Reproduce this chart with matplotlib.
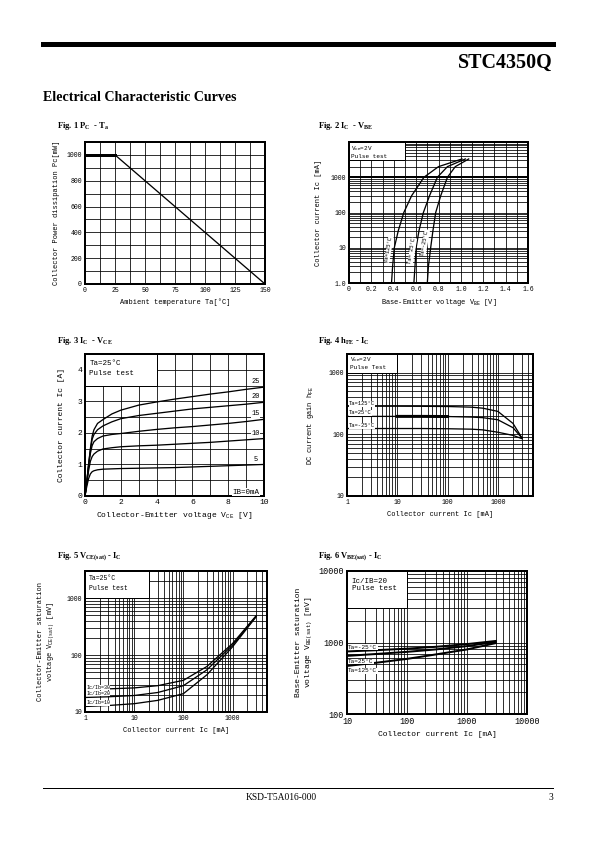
import matplotlib
matplotlib.use("Agg")
import matplotlib.pyplot as plt
from matplotlib.ticker import MultipleLocator, LogLocator, NullFormatter, NullLocator
from matplotlib.patches import Rectangle

plt.rcParams['font.family'] = ['Liberation Mono', 'DejaVu Sans Mono']

W, H = 595, 842

# ---- Fig. 1  Pc - Ta ----
ta = [0, 25, 150]
pc = [1000, 1000, 0]

# ---- Fig. 2  Ic - Vbe ----
ic2 = [1, 3, 10, 30, 100, 300, 1000, 2000, 3300]
vbe_125 = [0.38, 0.39, 0.405, 0.44, 0.49, 0.56, 0.67, 0.80, 1.01]
vbe_25 = [0.58, 0.59, 0.60, 0.625, 0.665, 0.72, 0.79, 0.88, 1.04]
vbe_m25 = [0.70, 0.71, 0.73, 0.75, 0.775, 0.82, 0.88, 0.95, 1.07]

# ---- Fig. 3  Ic - Vce ----
vce = [0, 0.1, 0.2, 0.3, 0.4, 0.5, 0.7, 1, 1.5, 2, 3, 4, 5, 6, 7, 8, 9, 10]
ic_ib25 = [0, 0.45, 1.0, 1.5, 1.9, 2.1, 2.3, 2.42, 2.6, 2.72, 2.88, 2.98, 3.07, 3.15, 3.23, 3.3, 3.38, 3.45]
ic_ib20 = [0, 0.45, 1.0, 1.45, 1.8, 1.95, 2.1, 2.22, 2.35, 2.45, 2.55, 2.62, 2.69, 2.76, 2.81, 2.86, 2.91, 2.97]
ic_ib15 = [0, 0.45, 0.95, 1.35, 1.6, 1.72, 1.82, 1.9, 1.95, 1.98, 2.05, 2.11, 2.16, 2.2, 2.25, 2.3, 2.36, 2.43]
ic_ib10 = [0, 0.4, 0.8, 1.1, 1.25, 1.33, 1.42, 1.49, 1.53, 1.56, 1.59, 1.61, 1.64, 1.67, 1.7, 1.74, 1.78, 1.82]
ic_ib5 = [0, 0.3, 0.55, 0.7, 0.77, 0.8, 0.83, 0.85, 0.86, 0.87, 0.88, 0.89, 0.9, 0.92, 0.94, 0.96, 0.98, 1.0]
ib_names = ["25", "20", "15", "10", "5"]

# ---- Fig. 4  hFE - Ic ----
ic4 = [1, 3, 10, 30, 100, 300, 500, 1000, 2000, 3000]
hfe_125 = [285, 285, 285, 284, 282, 275, 265, 235, 150, 88]
hfe_25 = [195, 195, 195, 195, 194, 190, 186, 172, 128, 87]
hfe_m25 = [124, 124, 124, 124, 123, 121, 118, 108, 96, 85]

# ---- Fig. 5  Vce(sat) - Ic ----
ic5 = [1, 3, 10, 30, 100, 300, 1000, 3000]
vcesat_30 = [25, 25.5, 26.5, 29, 36, 63, 160, 490]
vcesat_20 = [18, 18.5, 19.5, 22, 29, 55, 150, 480]
vcesat_10 = [12.5, 13, 14, 16, 21, 45, 140, 470]

# ---- Fig. 6  Vbe(sat) - Ic ----
ic6 = [10, 30, 100, 300, 1000, 3000]
vbesat_m25 = [750, 780, 820, 870, 950, 1050]
vbesat_25 = [650, 690, 740, 800, 890, 1020]
vbesat_125 = [470, 520, 590, 680, 800, 980]

fig = plt.figure(figsize=(W / 72, H / 72), dpi=72)


def px(x, y):
    return x / W, 1 - y / H


def add_ax(l, t, r, b, size=6.5):
    ax = fig.add_axes([l / W, 1 - b / H, (r - l) / W, (b - t) / H])
    for s in ax.spines.values():
        s.set_linewidth(2)
    ax.tick_params(which="both", length=0, labelsize=size, pad=3)
    ax.set_axisbelow(True)
    return ax


def log_grid(ax, axis):
    loc = LogLocator(base=10, subs=range(2, 10), numticks=20)
    if axis == "x":
        ax.xaxis.set_minor_locator(loc)
        ax.xaxis.set_minor_formatter(NullFormatter())
    else:
        ax.yaxis.set_minor_locator(loc)
        ax.yaxis.set_minor_formatter(NullFormatter())


def box(ax, x0, y0, x1, y1):
    ax.add_patch(Rectangle((x0, y0), x1 - x0, y1 - y0, facecolor="white",
                           edgecolor="black", lw=1, zorder=2))


def title(x, y, s):
    fig.text(*px(x, y), s, family="Liberation Serif", weight="bold", size=8.5,
             ha="left", va="baseline")


GRID = dict(color="black", lw=0.8)
LW = 1.3
lab_bg = dict(facecolor="white", edgecolor="none", pad=0.3)

# header / footer
fig.add_artist(plt.Line2D([43 / W, 553 / W], [1 - 43.5 / H, 1 - 43.5 / H], color="black", lw=5))
fig.text(*px(553, 68), "STC4350Q", family="Liberation Serif", weight="bold", size=20,
         ha="right", va="baseline")
fig.text(*px(43, 101), "Electrical Characteristic Curves", family="Liberation Serif",
         weight="bold", size=14, ha="left", va="baseline")
fig.add_artist(plt.Line2D([43 / W, 553 / W], [1 - 788 / H, 1 - 788 / H], color="black", lw=1))
fig.text(*px(281, 800), "KSD-T5A016-000", family="Liberation Serif", size=9.5,
         ha="center", va="baseline")
fig.text(*px(553, 800), "3", family="Liberation Serif", size=9.5, ha="right", va="baseline")

# ---------------- Fig 1 ----------------
title(57, 128, "Fig. 1 P$\\mathregular{_C}$  - T$\\mathregular{_a}$")
ax1 = add_ax(85, 142, 265, 284)
ax1.plot(ta[:2], pc[:2], color="black", lw=3, zorder=3)
ax1.plot(ta[1:], pc[1:], color="black", lw=LW, zorder=3)
ax1.set_xlim(0, 150)
ax1.set_ylim(0, 1100)
ax1.set_xticks([0, 25, 50, 75, 100, 125, 150])
ax1.set_yticks([0, 200, 400, 600, 800, 1000])
ax1.xaxis.set_minor_locator(MultipleLocator(12.5))
ax1.yaxis.set_minor_locator(MultipleLocator(100))
ax1.grid(True, which="both", **GRID)
ax1.set_xlabel("Ambient temperature Ta[\u00b0C]", size=7, labelpad=4)
ax1.set_ylabel("Collector Power dissipation Pc[mW]", size=7, labelpad=6)

# ---------------- Fig 2 ----------------
title(318, 128, "Fig. 2 I$\\mathregular{_C}$  - V$\\mathregular{_{BE}}$")
ax2 = add_ax(349, 142, 528, 283)
ax2.set_yscale("log")
ax2.set_xlim(0, 1.6)
ax2.set_ylim(1, 10000)
ax2.set_xticks([0, 0.2, 0.4, 0.6, 0.8, 1.0, 1.2, 1.4, 1.6])
ax2.set_xticklabels(["0", "0.2", "0.4", "0.6", "0.8", "1.0", "1.2", "1.4", "1.6"])
ax2.xaxis.set_minor_locator(MultipleLocator(0.1))
ax2.set_yticks([1, 10, 100, 1000])
ax2.set_yticklabels(["1.0", "10", "100", "1000"])
log_grid(ax2, "y")
ax2.grid(True, which="both", **GRID)
ax2.axhline(1000, color="black", lw=2)
box(ax2, 0, 3000, 0.5, 10000)
ax2.text(0.02, 8500, "V$\\mathregular{_{CE}}$=2V\nPulse test", size=6, va="top", ha="left",
         zorder=4, linespacing=1.1)
for v, name, xt, yt in [(vbe_125, "Ta=125\u00b0C", 0.355, 9), (vbe_25, "Ta= 25\u00b0C", 0.565, 8),
                        (vbe_m25, "Ta=-25\u00b0C", 0.68, 14)]:
    ax2.plot(v, ic2, color="black", lw=LW, zorder=3)
    ax2.text(xt, yt, name, size=5.5, rotation=80, ha="center", va="center", zorder=4, bbox=lab_bg)
ax2.set_xlabel("Base-Emitter voltage V$\\mathregular{_{BE}}$ [V]", size=7, labelpad=4)
ax2.set_ylabel("Collector current Ic [mA]", size=7, labelpad=8)

# ---------------- Fig 3 ----------------
title(57, 343, "Fig. 3 I$\\mathregular{_C}$  - V$\\mathregular{_{CE}}$")
ax3 = add_ax(85, 354, 264, 496, size=8)
ax3.set_xlim(0, 10)
ax3.set_ylim(0, 4.5)
ax3.set_xticks([0, 2, 4, 6, 8, 10])
ax3.set_yticks([0, 1, 2, 3, 4])
ax3.xaxis.set_minor_locator(MultipleLocator(1))
ax3.yaxis.set_minor_locator(MultipleLocator(0.5))
ax3.grid(True, which="both", **GRID)
box(ax3, -0.1, 3.5, 4, 4.6)
ax3.text(0.25, 4.3, "Ta=25\u00b0C\nPulse test", size=7.5, va="top", ha="left", zorder=4,
         linespacing=1.5)
curves3 = [ic_ib25, ic_ib20, ic_ib15, ic_ib10, ic_ib5]
for c, n in zip(curves3, ib_names):
    ax3.plot(vce, c, color="black", lw=LW, zorder=3)
    ax3.text(9.55, c[-1] + 0.17, n, size=7, ha="center", va="center", zorder=4, bbox=lab_bg)
ax3.text(9.75, 0.12, "IB=0mA", size=7.5, ha="right", va="center", zorder=4, bbox=lab_bg)
ax3.set_xlabel("Collector-Emitter voltage V$\\mathregular{_{CE}}$ [V]", size=8, labelpad=4)
ax3.set_ylabel("Collector current Ic [A]", size=8, labelpad=12)

# ---------------- Fig 4 ----------------
title(318, 343, "Fig. 4 h$\\mathregular{_{FE}}$ - I$\\mathregular{_C}$")
ax4 = add_ax(347, 354, 533, 496)
ax4.set_xscale("log")
ax4.set_yscale("log")
ax4.set_xlim(1, 5000)
ax4.set_ylim(10, 2000)
ax4.set_xticks([1, 10, 100, 1000])
ax4.set_xticklabels(["1", "10", "100", "1000"])
ax4.set_yticks([10, 100, 1000])
ax4.set_yticklabels(["10", "100", "1000"])
log_grid(ax4, "x")
log_grid(ax4, "y")
ax4.grid(True, which="both", **GRID)
box(ax4, 0.9, 1000, 10, 2300)
ax4.text(1.15, 1900, "V$\\mathregular{_{CE}}$=2V\nPulse Test", size=6, va="top", ha="left",
         zorder=4, linespacing=1.1)
for h, name, yt in [(hfe_125, "Ta=125\u00b0C", 310), (hfe_25, "Ta=25\u00b0C", 222),
                    (hfe_m25, "Ta=-25\u00b0C", 137)]:
    ax4.plot(ic4, h, color="black", lw=LW, zorder=3)
    ax4.text(1.1, yt, name, size=5.5, ha="left", va="center", zorder=4, bbox=lab_bg)
ax4.plot(ic4[2:5], hfe_25[2:5], color="black", lw=3, zorder=3)
ax4.set_xlabel("Collector current Ic [mA]", size=7, labelpad=5)
ax4.set_ylabel("DC current gain h$\\mathregular{_{FE}}$", size=7, labelpad=12)

# ---------------- Fig 5 ----------------
title(57, 558, "Fig. 5 V$\\mathregular{_{CE(sat)}}$ - I$\\mathregular{_C}$")
ax5 = add_ax(85, 571, 267, 712)
ax5.set_xscale("log")
ax5.set_yscale("log")
ax5.set_xlim(1, 5000)
ax5.set_ylim(10, 3000)
ax5.set_xticks([1, 10, 100, 1000])
ax5.set_xticklabels(["1", "10", "100", "1000"])
ax5.set_yticks([10, 100, 1000])
ax5.set_yticklabels(["10", "100", "1000"])
log_grid(ax5, "x")
log_grid(ax5, "y")
ax5.grid(True, which="both", **GRID)
box(ax5, 0.9, 1000, 20, 3500)
ax5.text(1.2, 2600, "Ta=25\u00b0C\nPulse test", size=6.5, va="top", ha="left", zorder=4,
         linespacing=1.6)
for v, name, yt in [(vcesat_30, "Ic/Ib=30", 27), (vcesat_20, "Ic/Ib=20", 21),
                    (vcesat_10, "Ic/Ib=10", 14.5)]:
    ax5.plot(ic5, v, color="black", lw=LW, zorder=3)
    ax5.text(1.05, yt, name, size=5, ha="left", va="center", zorder=4, bbox=lab_bg)
ax5.set_xlabel("Collector current Ic [mA]", size=7, labelpad=5)
ax5.set_ylabel("Collector-Emitter saturation\nvoltage V$\\mathregular{_{CE(sat)}}$ [mV]", size=7,
               labelpad=10, linespacing=1.3)

# ---------------- Fig 6 ----------------
title(318, 558, "Fig. 6 V$\\mathregular{_{BE(sat)}}$ - I$\\mathregular{_C}$")
ax6 = add_ax(347, 571, 527, 714, size=8.5)
ax6.set_xscale("log")
ax6.set_yscale("log")
ax6.set_xlim(10, 10000)
ax6.set_ylim(100, 10000)
ax6.set_xticks([10, 100, 1000, 10000])
ax6.set_xticklabels(["10", "100", "1000", "10000"])
ax6.set_yticks([100, 1000, 10000])
ax6.set_yticklabels(["100", "1000", "10000"])
log_grid(ax6, "x")
log_grid(ax6, "y")
ax6.grid(True, which="both", **GRID)
box(ax6, 9, 3000, 100, 11000)
ax6.text(12, 8000, "Ic/IB=20\nPulse test", size=7.5, va="top", ha="left", zorder=4,
         linespacing=1.1)
for v, name, yt in [(vbesat_m25, "Ta=-25\u00b0C", 860), (vbesat_25, "Ta=25\u00b0C", 545),
                    (vbesat_125, "Ta=125\u00b0C", 400)]:
    ax6.plot(ic6, v, color="black", lw=2, zorder=3)
    ax6.text(10.5, yt, name, size=6, ha="left", va="center", zorder=4, bbox=lab_bg)
ax6.set_xlabel("Collector current Ic [mA]", size=8, labelpad=5)
ax6.set_ylabel("Base-Emitter saturation\nvoltage V$\\mathregular{_{BE(sat)}}$ [mV]", size=8,
               labelpad=4, linespacing=1.3)

fig.savefig("out.png", dpi=72)
